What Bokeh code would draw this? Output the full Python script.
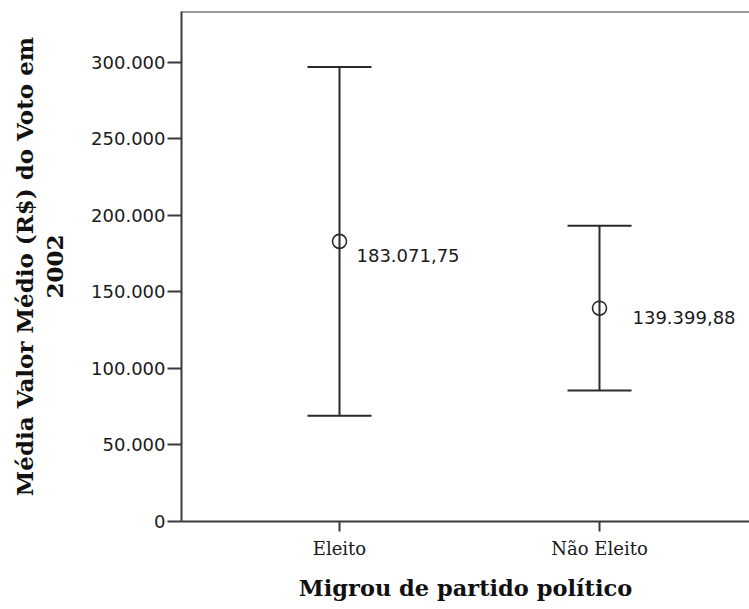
from bokeh.plotting import figure
from bokeh.models import Range1d, FixedTicker, Whisker, TeeHead, ColumnDataSource, Span
from bokeh.embed import file_html
from bokeh.resources import INLINE
from bokeh.core.properties import value

# Mean vote value (R$) in 2002 by party-switching group, with 95% CI bounds
categories = ["Eleito", "Não Eleito"]
means = [183071.75, 139399.88]
ci_upper = [297000, 193200]
ci_lower = [69100, 85600]
y_ticks = [0, 50000, 100000, 150000, 200000, 250000, 300000]


def br_number(v, decimals=0):
    s = f"{v:,.{decimals}f}"
    return s.replace(",", "#").replace(".", ",").replace("#", ".")


xs = [i + 1 for i in range(len(categories))]
src = ColumnDataSource(data=dict(
    x=xs,
    mean=means,
    upper=ci_upper,
    lower=ci_lower,
    label=[br_number(m, 2) for m in means],
))

AXIS_COLOR = "#3a3a3a"

p = figure(
    width=749, height=609,
    x_range=Range1d(0.3923, 2.5769),
    y_range=Range1d(0, 333300),
    output_backend="svg", toolbar_location=None,
    min_border_left=181, min_border_right=0,
    min_border_top=11, min_border_bottom=88,
)
p.outline_line_color = None
p.grid.visible = False
p.background_fill_color = "white"
p.border_fill_color = "white"

# top edge of the frame
p.add_layout(Span(location=333300, dimension="width",
                  line_color=AXIS_COLOR, line_width=2))

# error bars
p.add_layout(Whisker(
    source=src, base="x", upper="upper", lower="lower",
    line_color="#2a2a2a", line_width=2,
    upper_head=TeeHead(size=64, line_color="#2a2a2a", line_width=2),
    lower_head=TeeHead(size=64, line_color="#2a2a2a", line_width=2),
))

# mean markers
p.scatter("x", "mean", source=src, size=14, marker="circle",
          fill_color="white", fill_alpha=0.0,
          line_color="#2a2a2a", line_width=1.6)

# mean value labels
label_dx = [17, 33]
label_dy = [-14, -9]
for i in range(len(categories)):
    p.text(x=[xs[i]], y=[means[i]], text=[br_number(means[i], 2)],
           x_offset=label_dx[i], y_offset=-label_dy[i],
           text_font=value("DejaVu Sans"), text_font_size="18px",
           text_color="#1a1a1a", text_baseline="middle", text_align="left")

# y axis
ya = p.yaxis[0]
ya.ticker = FixedTicker(ticks=y_ticks)
ya.major_label_overrides = {t: br_number(t) for t in y_ticks}
ya.minor_tick_line_color = None
ya.major_tick_in = 0
ya.major_tick_out = 14
ya.major_label_standoff = 2
ya.axis_line_color = AXIS_COLOR
ya.axis_line_width = 2
ya.major_tick_line_color = AXIS_COLOR
ya.major_tick_line_width = 2
ya.major_label_text_font = "DejaVu Sans"
ya.major_label_text_font_size = "18px"
ya.major_label_text_color = "#1a1a1a"
ya.axis_label = "Média Valor Médio (R$) do Voto em\n2002"
ya.axis_label_text_font = "DejaVu Serif"
ya.axis_label_text_font_style = "bold"
ya.axis_label_text_font_size = "23px"
ya.axis_label_text_line_height = 1.1
ya.axis_label_text_color = "#111111"
ya.axis_label_standoff = 20

# x axis
xa = p.xaxis[0]
xa.ticker = FixedTicker(ticks=xs)
xa.major_label_overrides = {x: c for x, c in zip(xs, categories)}
xa.minor_tick_line_color = None
xa.major_tick_in = 0
xa.major_tick_out = 10
xa.major_label_standoff = 6
xa.axis_line_color = AXIS_COLOR
xa.axis_line_width = 2
xa.major_tick_line_color = AXIS_COLOR
xa.major_tick_line_width = 2
xa.major_label_text_font = "DejaVu Serif"
xa.major_label_text_font_size = "18px"
xa.major_label_text_color = "#1a1a1a"
xa.axis_label = "Migrou de partido político"
xa.axis_label_text_font = "DejaVu Serif"
xa.axis_label_text_font_style = "bold"
xa.axis_label_text_font_size = "22.5px"
xa.axis_label_text_color = "#111111"
xa.axis_label_standoff = 13

open("out.html", "w").write(file_html(p, INLINE))
